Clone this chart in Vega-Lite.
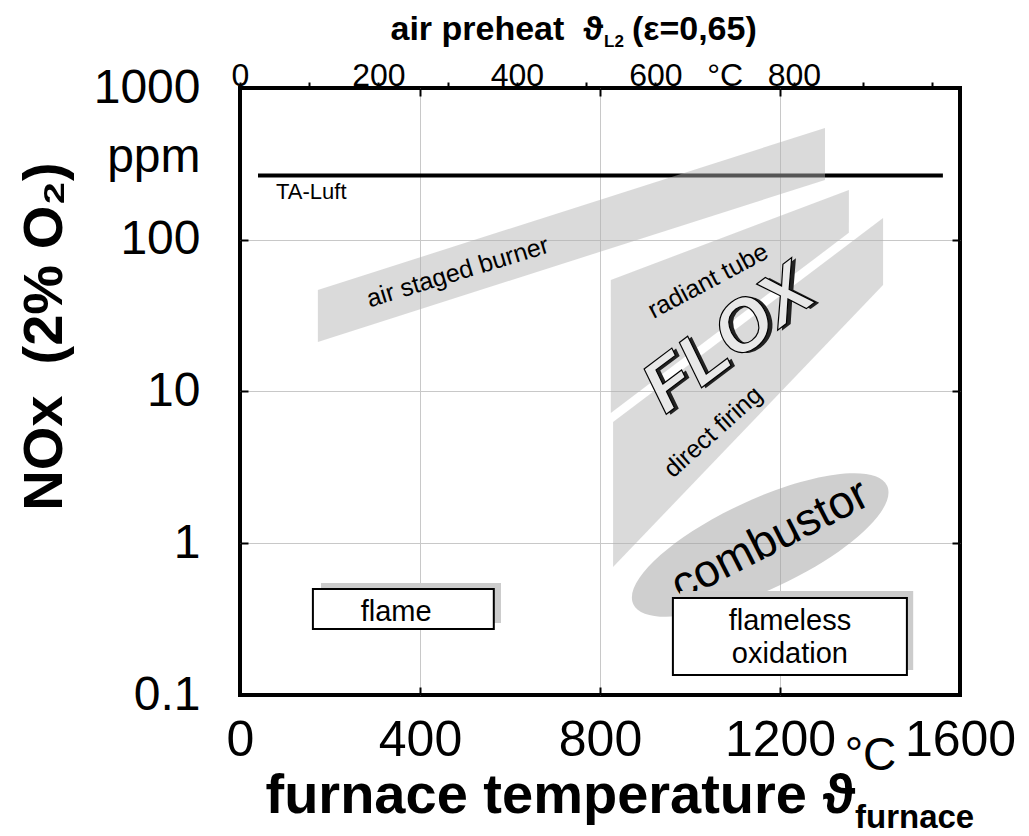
{
  "$schema": "https://vega.github.io/schema/vega-lite/v6.json",
  "width": 720,
  "height": 607,
  "autosize": {"type": "none"},
  "padding": {"left": 240, "top": 88, "right": 69, "bottom": 141},
  "background": "white",
  "config": {
    "view": {"stroke": "black", "strokeWidth": 4},
    "font": "Liberation Sans",
    "axis": {"labelFont": "Liberation Sans", "titleFont": "Liberation Sans", "labelColor": "black", "titleColor": "black"},
    "text": {"font": "Liberation Sans", "color": "black"}
  },
  "datasets": {
    "taluft": [{"T": 40, "v": 265}, {"T": 1562, "v": 265}],
    "bands": [
      {"band": "air staged burner", "T": 173, "top": 46.7, "bottom": 21.2},
      {"band": "air staged burner", "T": 1300, "top": 545, "bottom": 248},
      {"band": "radiant tube", "T": 824, "top": 54.3, "bottom": 7.22},
      {"band": "radiant tube", "T": 1353, "top": 213, "bottom": 111},
      {"band": "direct firing", "T": 829, "top": 6.29, "bottom": 0.697},
      {"band": "direct firing", "T": 1429, "top": 139, "bottom": 50.3}
    ]
  },
  "layer": [
    {
      "layer": [
        {
          "data": {"name": "taluft"},
          "mark": {"type": "line", "color": "black", "strokeWidth": 4},
          "encoding": {
            "x": {
              "field": "T", "type": "quantitative",
              "scale": {"domain": [0, 1600], "nice": false, "zero": false},
              "axis": {
                "orient": "bottom",
                "values": [0, 400, 800, 1200, 1400, 1600],
                "format": "d",
                "labelExpr": "datum.value == 1400 ? '°C' : datum.label",
                "labelFontSize": {"condition": {"test": "datum.value == 1400", "value": 46}, "value": 50},
                "labelPadding": {"condition": {"test": "datum.value == 1400", "value": 46}, "value": 28},
                "labelFlush": false,
                "labelOverlap": false,
                "tickSize": -8,
                "tickWidth": 2,
                "tickColor": {"condition": {"test": "datum.value == 1400 || datum.value == 0 || datum.value == 1600", "value": "transparent"}, "value": "black"},
                "grid": true,
                "gridColor": {"condition": {"test": "datum.value == 1400 || datum.value == 0 || datum.value == 1600", "value": "transparent"}, "value": "#c8c8c8"},
                "gridWidth": 1,
                "domain": false,
                "title": "furnace temperature ϑ",
                "titleFontSize": 56,
                "titleFontWeight": "bold",
                "titleAlign": "left",
                "titleAnchor": "start",
                "titleBaseline": "alphabetic",
                "titleX": 25,
                "titleY": 117
              }
            },
            "y": {
              "field": "v", "type": "quantitative",
              "scale": {"type": "log", "domain": [0.1, 1000], "nice": false},
              "axis": {
                "values": [0.1, 1, 10, 100, 346, 1000],
                "format": "~g",
                "labelExpr": "datum.value == 346 ? 'ppm' : datum.label",
                "labelFontSize": 48,
                "labelPadding": 48,
                "labelFlush": false,
                "labelOverlap": false,
                "tickSize": -8,
                "tickWidth": 2,
                "tickColor": {"condition": {"test": "datum.value == 346 || datum.value == 0.1 || datum.value == 1000", "value": "transparent"}, "value": "black"},
                "grid": true,
                "gridColor": {"condition": {"test": "datum.value == 346 || datum.value == 0.1 || datum.value == 1000", "value": "transparent"}, "value": "#c8c8c8"},
                "gridWidth": 1,
                "domain": false,
                "title": "NOx\u00a0\u00a0(2% O₂)",
                "titleFontSize": 56,
                "titleFontWeight": "bold",
                "titleAlign": "center",
                "titleBaseline": "middle",
                "titleX": -196,
                "titleY": 248
              }
            }
          }
        },
        {
          "data": {"name": "bands"},
          "mark": {"type": "area", "fill": "#b1b1b1", "fillOpacity": 0.48, "interpolate": "linear"},
          "encoding": {
            "x": {"field": "T", "type": "quantitative", "scale": {"domain": [0, 1600], "nice": false, "zero": false}},
            "y": {"field": "top", "type": "quantitative", "stack": null, "scale": {"type": "log", "domain": [0.1, 1000], "nice": false}},
            "y2": {"field": "bottom"},
            "detail": {"field": "band"}
          }
        },
        {
          "data": {"values": [{"region": "combustor", "T": 1156, "v": 0.974}]},
          "mark": {"type": "point", "shape": "M 1 0 C 1 0.1767 0.5523 0.32 0 0.32 C -0.5523 0.32 -1 0.1767 -1 0 C -1 -0.1767 -0.5523 -0.32 0 -0.32 C 0.5523 -0.32 1 -0.1767 1 0 Z", "size": 78400, "angle": -25, "filled": true, "fill": "#a0a0a0", "opacity": 0.5, "strokeWidth": 0},
          "encoding": {
            "x": {"field": "T", "type": "quantitative", "scale": {"domain": [0, 1600], "nice": false, "zero": false}},
            "y": {"field": "v", "type": "quantitative", "scale": {"type": "log", "domain": [0.1, 1000], "nice": false}}
          }
        },
        {
          "data": {"values": [{"label": "TA-Luft", "T": 80, "v": 206}]},
          "mark": {"type": "text", "fontSize": 22, "align": "left", "baseline": "middle"},
          "encoding": {
            "x": {"field": "T", "type": "quantitative", "scale": {"domain": [0, 1600], "nice": false, "zero": false}},
            "y": {"field": "v", "type": "quantitative", "scale": {"type": "log", "domain": [0.1, 1000], "nice": false}},
            "text": {"field": "label"}
          }
        },
        {
          "data": {"values": [{"label": "air staged burner", "T": 484, "v": 61.2}]},
          "mark": {"type": "text", "fontSize": 25, "angle": -17, "align": "center", "baseline": "middle"},
          "encoding": {
            "x": {"field": "T", "type": "quantitative", "scale": {"domain": [0, 1600], "nice": false, "zero": false}},
            "y": {"field": "v", "type": "quantitative", "scale": {"type": "log", "domain": [0.1, 1000], "nice": false}},
            "text": {"field": "label"}
          }
        },
        {
          "data": {"values": [{"label": "radiant tube", "T": 1040, "v": 53.5}]},
          "mark": {"type": "text", "fontSize": 25, "angle": -28, "align": "center", "baseline": "middle"},
          "encoding": {
            "x": {"field": "T", "type": "quantitative", "scale": {"domain": [0, 1600], "nice": false, "zero": false}},
            "y": {"field": "v", "type": "quantitative", "scale": {"type": "log", "domain": [0.1, 1000], "nice": false}},
            "text": {"field": "label"}
          }
        },
        {
          "data": {"values": [{"label": "direct firing", "T": 1051, "v": 5.41}]},
          "mark": {"type": "text", "fontSize": 25, "angle": -42, "align": "center", "baseline": "middle"},
          "encoding": {
            "x": {"field": "T", "type": "quantitative", "scale": {"domain": [0, 1600], "nice": false, "zero": false}},
            "y": {"field": "v", "type": "quantitative", "scale": {"type": "log", "domain": [0.1, 1000], "nice": false}},
            "text": {"field": "label"}
          }
        },
        {
          "data": {"values": [{"label": "combustor", "T": 1178, "v": 1.05}]},
          "mark": {"type": "text", "fontSize": 46, "angle": -27, "align": "center", "baseline": "middle"},
          "encoding": {
            "x": {"field": "T", "type": "quantitative", "scale": {"domain": [0, 1600], "nice": false, "zero": false}},
            "y": {"field": "v", "type": "quantitative", "scale": {"type": "log", "domain": [0.1, 1000], "nice": false}},
            "text": {"field": "label"}
          }
        },
        {
          "data": {"values": [{"label": "FLOX", "T": 1086, "v": 22}]},
          "mark": {"type": "text", "fontSize": 72, "fontWeight": "bold", "fontStyle": "italic", "angle": -37, "align": "center", "baseline": "middle", "color": "#222222", "dx": 3, "dy": 3},
          "encoding": {
            "x": {"field": "T", "type": "quantitative", "scale": {"domain": [0, 1600], "nice": false, "zero": false}},
            "y": {"field": "v", "type": "quantitative", "scale": {"type": "log", "domain": [0.1, 1000], "nice": false}},
            "text": {"field": "label"}
          }
        },
        {
          "data": {"values": [{"label": "FLOX", "T": 1086, "v": 22}]},
          "mark": {"type": "text", "fontSize": 72, "fontWeight": "bold", "fontStyle": "italic", "angle": -37, "align": "center", "baseline": "middle", "fill": "#e8e8e8", "stroke": "black", "strokeWidth": 1.2},
          "encoding": {
            "x": {"field": "T", "type": "quantitative", "scale": {"domain": [0, 1600], "nice": false, "zero": false}},
            "y": {"field": "v", "type": "quantitative", "scale": {"type": "log", "domain": [0.1, 1000], "nice": false}},
            "text": {"field": "label"}
          }
        },
        {
          "data": {"values": [
            {"box": "flame", "T1": 180, "T2": 580, "v1": 0.547, "v2": 0.298},
            {"box": "flameless oxidation", "T1": 978, "T2": 1496, "v1": 0.484, "v2": 0.146}
          ]},
          "mark": {"type": "rect", "fill": "#cccccc"},
          "encoding": {
            "x": {"field": "T1", "type": "quantitative", "scale": {"domain": [0, 1600], "nice": false, "zero": false}},
            "x2": {"field": "T2"},
            "y": {"field": "v1", "type": "quantitative", "scale": {"type": "log", "domain": [0.1, 1000], "nice": false}},
            "y2": {"field": "v2"}
          }
        },
        {
          "data": {"values": [
            {"box": "flame", "T1": 162, "T2": 564, "v1": 0.4994, "v2": 0.272},
            {"box": "flameless oxidation", "T1": 962, "T2": 1482, "v1": 0.4355, "v2": 0.1355}
          ]},
          "mark": {"type": "rect", "fill": "white", "stroke": "black", "strokeWidth": 2},
          "encoding": {
            "x": {"field": "T1", "type": "quantitative", "scale": {"domain": [0, 1600], "nice": false, "zero": false}},
            "x2": {"field": "T2"},
            "y": {"field": "v1", "type": "quantitative", "scale": {"type": "log", "domain": [0.1, 1000], "nice": false}},
            "y2": {"field": "v2"}
          }
        },
        {
          "data": {"values": [
            {"label": "flame", "T": 347, "v": 0.352},
            {"label": "flameless", "T": 1222, "v": 0.3073},
            {"label": "oxidation", "T": 1222, "v": 0.1863}
          ]},
          "mark": {"type": "text", "fontSize": 29, "align": "center", "baseline": "middle"},
          "encoding": {
            "x": {"field": "T", "type": "quantitative", "scale": {"domain": [0, 1600], "nice": false, "zero": false}},
            "y": {"field": "v", "type": "quantitative", "scale": {"type": "log", "domain": [0.1, 1000], "nice": false}},
            "text": {"field": "label"}
          }
        },
        {
          "data": {"values": [{"label": "air preheat\u00a0\u00a0ϑ", "T": 806.7, "v": 2070}]},
          "mark": {"type": "text", "fontSize": 34, "fontWeight": "bold", "align": "right", "baseline": "alphabetic"},
          "encoding": {
            "x": {"field": "T", "type": "quantitative", "scale": {"domain": [0, 1600], "nice": false, "zero": false}},
            "y": {"field": "v", "type": "quantitative", "scale": {"type": "log", "domain": [0.1, 1000], "nice": false}},
            "text": {"field": "label"}
          }
        },
        {
          "data": {"values": [{"label": "L2", "T": 809, "v": 1864}]},
          "mark": {"type": "text", "fontSize": 17, "fontWeight": "bold", "align": "left", "baseline": "alphabetic"},
          "encoding": {
            "x": {"field": "T", "type": "quantitative", "scale": {"domain": [0, 1600], "nice": false, "zero": false}},
            "y": {"field": "v", "type": "quantitative", "scale": {"type": "log", "domain": [0.1, 1000], "nice": false}},
            "text": {"field": "label"}
          }
        },
        {
          "data": {"values": [{"label": "(ε=0,65)", "T": 871, "v": 2070}]},
          "mark": {"type": "text", "fontSize": 34, "fontWeight": "bold", "align": "left", "baseline": "alphabetic"},
          "encoding": {
            "x": {"field": "T", "type": "quantitative", "scale": {"domain": [0, 1600], "nice": false, "zero": false}},
            "y": {"field": "v", "type": "quantitative", "scale": {"type": "log", "domain": [0.1, 1000], "nice": false}},
            "text": {"field": "label"}
          }
        },
        {
          "data": {"values": [{"label": "furnace", "T": 1366.7, "v": 0.01329}]},
          "mark": {"type": "text", "fontSize": 33, "fontWeight": "bold", "align": "left", "baseline": "alphabetic"},
          "encoding": {
            "x": {"field": "T", "type": "quantitative", "scale": {"domain": [0, 1600], "nice": false, "zero": false}},
            "y": {"field": "v", "type": "quantitative", "scale": {"type": "log", "domain": [0.1, 1000], "nice": false}},
            "text": {"field": "label"}
          }
        }
      ]
    },
    {
      "data": {"values": [{"P": 0, "v": 1}, {"P": 1040, "v": 1}]},
      "mark": {"type": "point", "opacity": 0},
      "encoding": {
        "x": {
          "field": "P", "type": "quantitative",
          "scale": {"domain": [0, 1040], "nice": false, "zero": false},
          "axis": {
            "orient": "top",
            "values": [0, 100, 200, 260, 300, 400, 500, 520, 600, 700, 780, 800, 900, 1000],
            "labelExpr": "datum.value == 700 ? '°C' : ((datum.value % 200 == 0 && datum.value <= 800) ? datum.label : '')",
            "format": "d",
            "labelFontSize": 32,
            "labelPadding": -3,
            "labelBaseline": "alphabetic",
            "labelFlush": false,
            "labelOverlap": false,
            "tickSize": {"condition": {"test": "datum.value == 260 || datum.value == 520 || datum.value == 780", "value": -8}, "value": 6},
            "tickWidth": 2,
            "tickColor": {"condition": {"test": "datum.value == 700", "value": "transparent"}, "value": "black"},
            "grid": false,
            "domain": false,
            "title": null
          }
        },
        "y": {
          "field": "v", "type": "quantitative",
          "scale": {"type": "log", "domain": [0.1, 1000], "nice": false},
          "axis": {
            "orient": "right",
            "values": [1, 10, 100],
            "labels": false,
            "tickSize": -8,
            "tickWidth": 2,
            "tickColor": "black",
            "grid": false,
            "domain": false,
            "title": null
          }
        }
      }
    }
  ],
  "resolve": {"scale": {"x": "independent"}, "axis": {"y": "independent"}}
}
